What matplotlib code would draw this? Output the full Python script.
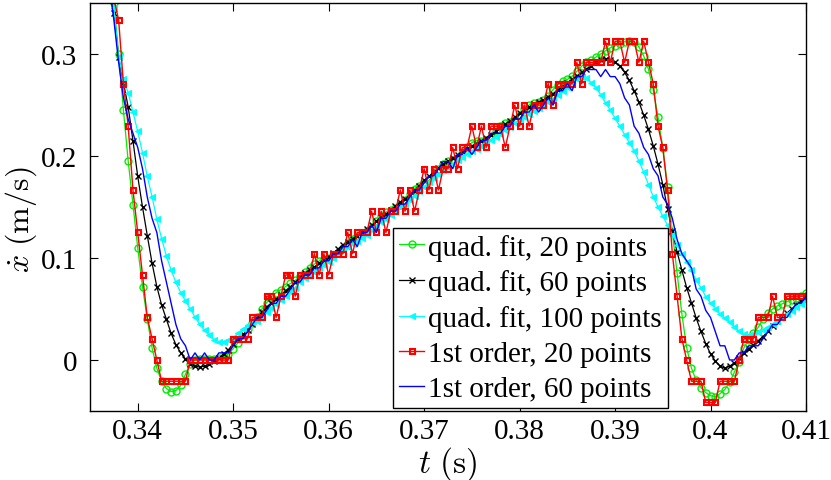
import numpy as np
import matplotlib
matplotlib.use("Agg")
import matplotlib.pyplot as plt

# sample times (s), 0.5 ms apart
t = np.round(0.3365 + 0.0005 * np.arange(148), 4)

# quadratic fit estimates (m/s)
quad_20 = [
    0.44, 0.39, 0.35, 0.30, 0.245, 0.195, 0.152, 0.110, 0.072, 0.040,
    0.012, -0.008, -0.021, -0.028, -0.031, -0.030, -0.025, -0.014, -0.004, 0.000,
    0.001, 0.001, 0.001, 0.001, 0.002, 0.003, 0.006, 0.011, 0.017, 0.022,
    0.030, 0.036, 0.042, 0.050, 0.056, 0.062, 0.066, 0.069, 0.072, 0.075,
    0.078, 0.082, 0.086, 0.090, 0.094, 0.097, 0.099, 0.100, 0.102, 0.105,
    0.110, 0.115, 0.119, 0.122, 0.124, 0.126, 0.130, 0.136, 0.141, 0.145,
    0.147, 0.149, 0.152, 0.157, 0.163, 0.168, 0.171, 0.173, 0.176, 0.181,
    0.187, 0.192, 0.195, 0.196, 0.198, 0.203, 0.209, 0.213, 0.215, 0.215,
    0.216, 0.219, 0.224, 0.229, 0.232, 0.233, 0.235, 0.240, 0.246, 0.250,
    0.252, 0.253, 0.255, 0.259, 0.265, 0.270, 0.273, 0.275, 0.278, 0.283,
    0.288, 0.292, 0.294, 0.297, 0.300, 0.303, 0.306, 0.308, 0.310, 0.312,
    0.313, 0.312, 0.307, 0.298, 0.285, 0.265, 0.238, 0.208, 0.170, 0.125,
    0.085, 0.045, 0.012, -0.008, -0.020, -0.027, -0.032, -0.035, -0.036, -0.033,
    -0.029, -0.022, -0.012, -0.002, 0.012, 0.020, 0.026, 0.032, 0.040, 0.046,
    0.050, 0.053, 0.055, 0.057, 0.059, 0.061, 0.063, 0.066,
]

quad_60 = [
    0.42, 0.38, 0.34, 0.297, 0.272, 0.248, 0.215, 0.180, 0.150, 0.122,
    0.095, 0.072, 0.054, 0.040, 0.026, 0.015, 0.007, 0.001, -0.004, -0.006,
    -0.007, -0.006, -0.004, -0.001, 0.002, 0.006, 0.010, 0.016, 0.021, 0.025,
    0.029, 0.035, 0.041, 0.047, 0.052, 0.056, 0.060, 0.064, 0.068, 0.072,
    0.076, 0.081, 0.085, 0.088, 0.091, 0.095, 0.098, 0.101, 0.105, 0.109,
    0.113, 0.116, 0.119, 0.122, 0.125, 0.128, 0.132, 0.136, 0.140, 0.143,
    0.147, 0.151, 0.155, 0.158, 0.162, 0.166, 0.171, 0.176, 0.180, 0.184,
    0.188, 0.192, 0.195, 0.198, 0.201, 0.205, 0.207, 0.210, 0.212, 0.215,
    0.218, 0.221, 0.224, 0.228, 0.231, 0.234, 0.238, 0.242, 0.245, 0.248,
    0.251, 0.253, 0.255, 0.258, 0.261, 0.265, 0.268, 0.272, 0.275, 0.278,
    0.282, 0.285, 0.288, 0.292, 0.294, 0.295, 0.294, 0.292, 0.288, 0.282,
    0.274, 0.264, 0.253, 0.240, 0.226, 0.210, 0.192, 0.172, 0.148, 0.126,
    0.106, 0.088, 0.071, 0.056, 0.041, 0.028, 0.016, 0.006, -0.001, -0.006,
    -0.008, -0.006, -0.003, 0.002, 0.007, 0.011, 0.015, 0.019, 0.023, 0.028,
    0.033, 0.038, 0.042, 0.046, 0.050, 0.054, 0.058, 0.062,
]

quad_100 = [
    0.40, 0.375, 0.345, 0.297, 0.275, 0.262, 0.243, 0.224, 0.203, 0.180,
    0.160, 0.138, 0.119, 0.102, 0.088, 0.076, 0.066, 0.058, 0.050, 0.042,
    0.035, 0.029, 0.024, 0.020, 0.018, 0.018, 0.020, 0.022, 0.026, 0.030,
    0.034, 0.037, 0.038, 0.042, 0.047, 0.051, 0.055, 0.059, 0.063, 0.067,
    0.071, 0.076, 0.080, 0.083, 0.086, 0.090, 0.093, 0.096, 0.100, 0.104,
    0.108, 0.111, 0.114, 0.117, 0.120, 0.123, 0.127, 0.131, 0.135, 0.138,
    0.142, 0.146, 0.150, 0.153, 0.157, 0.161, 0.166, 0.170, 0.174, 0.178,
    0.182, 0.186, 0.189, 0.192, 0.196, 0.199, 0.202, 0.205, 0.207, 0.210,
    0.213, 0.216, 0.219, 0.222, 0.225, 0.228, 0.232, 0.235, 0.238, 0.241,
    0.244, 0.247, 0.250, 0.253, 0.256, 0.260, 0.264, 0.268, 0.272, 0.275,
    0.277, 0.276, 0.272, 0.267, 0.260, 0.252, 0.245, 0.237, 0.229, 0.221,
    0.213, 0.205, 0.195, 0.184, 0.172, 0.160, 0.150, 0.141, 0.132, 0.123,
    0.113, 0.104, 0.096, 0.088, 0.078, 0.071, 0.062, 0.056, 0.050, 0.045,
    0.041, 0.037, 0.032, 0.028, 0.025, 0.024, 0.025, 0.027, 0.029, 0.032,
    0.035, 0.038, 0.042, 0.045, 0.048, 0.052, 0.055, 0.058,
]

# first order estimates are quantized, kept as whole counts of one step
step_20 = 1.0 / 48.0
step_60 = 1.0 / 144.0

first_20 = [
    20, 19, 17, 16, 13, 11, 8, 6, 4, 2,
    1, 0, -1, -1, -1, -1, -1, -1, 0, 0,
    0, 0, 0, 0, 0, 0, 0, 1, 1, 1,
    1, 2, 2, 2, 3, 3, 2, 3, 4, 4,
    3, 4, 4, 4, 5, 4, 5, 4, 5, 5,
    5, 6, 5, 6, 6, 6, 7, 6, 7, 6,
    7, 7, 8, 7, 8, 7, 8, 9, 8, 9,
    8, 9, 9, 10, 9, 10, 10, 11, 10, 11,
    10, 11, 11, 11, 10, 11, 12, 11, 12, 11,
    12, 12, 12, 13, 12, 13, 13, 13, 13, 14,
    13, 14, 14, 14, 14, 15, 14, 15, 15, 14,
    15, 15, 14, 15, 14, 13, 11, 10, 8, 5,
    3, 1, 0, -1, -1, -1, -2, -2, -2, -1,
    -1, -1, -1, 0, 1, 1, 1, 2, 2, 2,
    3, 2, 2, 3, 3, 3, 3, 3,
]

first_60 = [
    59, 53, 48, 42, 37, 34, 32, 30, 27, 23,
    20, 18, 14, 11, 8, 5, 3, 2, 0, 1,
    0, 1, 0, 0, 1, 1, 1, 2, 3, 3,
    4, 5, 6, 6, 7, 8, 8, 9, 9, 10,
    11, 11, 12, 12, 13, 13, 14, 14, 15, 15,
    16, 16, 17, 16, 18, 18, 19, 18, 20, 20,
    21, 21, 22, 22, 23, 24, 24, 25, 26, 26,
    27, 28, 28, 27, 29, 29, 30, 29, 30, 31,
    31, 32, 32, 32, 33, 33, 34, 34, 35, 35,
    36, 35, 36, 37, 36, 38, 38, 39, 38, 40,
    40, 41, 41, 41, 40, 41, 40, 40, 39, 37,
    36, 33, 32, 30, 29, 27, 26, 23, 22, 20,
    17, 15, 14, 13, 10, 9, 7, 6, 4, 2,
    2, 0, 0, 1, 1, 2, 2, 2, 3, 4,
    5, 5, 6, 6, 7, 8, 8, 9,
]

labels = [
    "quad. fit, 20 points",
    "quad. fit, 60 points",
    "quad. fit, 100 points",
    "1st order, 20 points",
    "1st order, 60 points",
]

x_ticks = [0.34, 0.35, 0.36, 0.37, 0.38, 0.39, 0.40, 0.41]
x_ticklabels = ["0.34", "0.35", "0.36", "0.37", "0.38", "0.39", "0.4", "0.41"]
y_ticks = [0.0, 0.1, 0.2, 0.3]
y_ticklabels = ["0", "0.1", "0.2", "0.3"]


def main():
    plt.rcParams["font.family"] = ["Liberation Serif", "DejaVu Serif"]
    plt.rcParams["mathtext.fontset"] = "cm"

    fig = plt.figure(figsize=(8.31, 4.81), dpi=100)
    ax = fig.add_axes([0.1083, 0.1435, 0.8616, 0.8483])

    ax.plot(t, quad_20, "-o", color="#00ee00", lw=0.9, ms=5.0,
            mfc="none", mew=1.0, label=labels[0])
    ax.plot(t, quad_60, "-x", color="black", lw=0.9, ms=4.2,
            mew=1.0, label=labels[1])
    ax.plot(t, quad_100, "-<", color="cyan", lw=0.9, ms=4.8,
            mew=0.8, label=labels[2])
    ax.plot(t, np.array(first_20) * step_20, "-s", color="red", lw=1.0,
            ms=3.6, mfc="none", mew=1.5, label=labels[3])
    ax.plot(t, np.array(first_60) * step_60, "-", color="blue", lw=1.0,
            label=labels[4])

    ax.set_xlim(0.335, 0.41)
    ax.set_ylim(-0.05, 0.35)
    ax.set_xticks(x_ticks)
    ax.set_xticklabels(x_ticklabels)
    ax.set_yticks(y_ticks)
    ax.set_yticklabels(y_ticklabels)
    ax.tick_params(direction="in", top=True, right=True, length=6,
                   width=0.8, labelsize=21)
    ax.tick_params(axis="x", pad=5)
    ax.tick_params(axis="y", pad=9)
    for sp in ax.spines.values():
        sp.set_linewidth(1.0)

    ax.set_xlabel(r"$t\ \mathrm{(s)}$", fontsize=24)
    ax.xaxis.set_label_coords(0.5, -0.08)
    ax.set_ylabel(r"$\dot{x}\ \mathrm{(m/s)}$", fontsize=23)
    ax.yaxis.set_label_coords(-0.071, 0.47)

    leg = ax.legend(loc="lower right", bbox_to_anchor=(0.807, 0.007),
                    fontsize=21, handlelength=0.85, handletextpad=0.15,
                    labelspacing=0.3, borderpad=0.2, borderaxespad=0.0,
                    fancybox=False, framealpha=1.0, edgecolor="black")
    leg.get_frame().set_linewidth(1.0)

    fig.savefig("out.png", dpi=100)


if __name__ == "__main__":
    main()
